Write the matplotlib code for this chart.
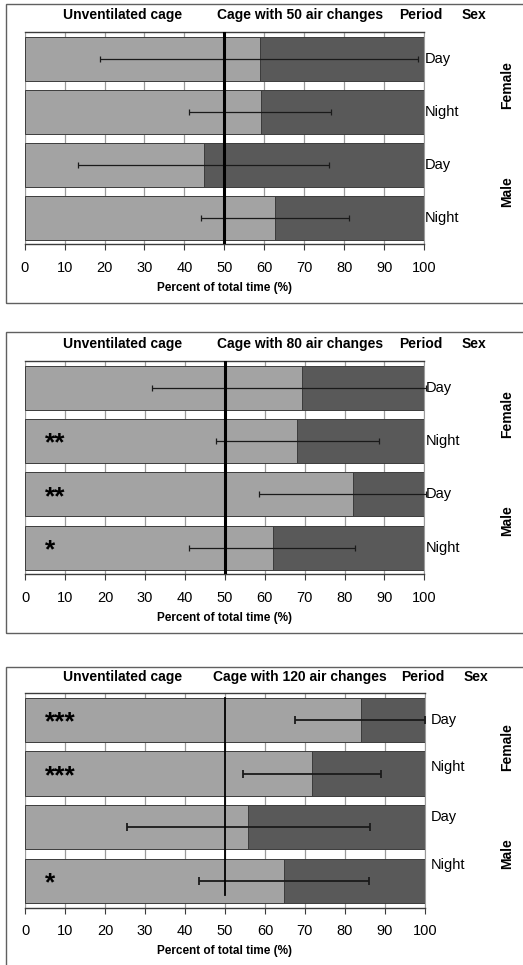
import numpy as np
import matplotlib
matplotlib.use("Agg")
import matplotlib.pyplot as plt
from matplotlib.patches import Rectangle

plt.rcParams['font.family'] = ['Liberation Sans', 'DejaVu Sans']

# --- data ---
periods = ["Day", "Night", "Day", "Night"]
sexes = ["Female", "Male"]
cages = ["Cage with 50 air changes", "Cage with 80 air changes", "Cage with 120 air changes"]

# percent of time spent in the unventilated cage
unvent_50 = [58.9, 59.2, 44.8, 62.6]
unvent_80 = [69.3, 68.1, 82.1, 62.0]
unvent_120 = [84.0, 71.8, 55.8, 64.7]

# visible ends of the error bars (Excel clips at the axis maximum)
err_low_50 = [18.9, 41.2, 13.4, 44.2]
err_high_50 = [98.6, 76.8, 76.2, 81.3]
err_low_80 = [31.8, 47.8, 58.5, 41.0]
err_high_80 = [100.5, 88.6, 100.5, 82.7]
err_low_120 = [67.5, 54.6, 25.4, 43.4]
err_high_120 = [100.2, 89.0, 86.3, 86.0]

stars_50 = ["", "", "", ""]
stars_80 = ["", "**", "**", "*"]
stars_120 = ["***", "***", "", "*"]

W, H = 523, 965
LIGHT = "#a3a3a3"
DARK = "#595959"
EDGE = "#3c3c3c"


def fx(x):
    return x / W


def fy(y):
    return 1 - y / H


fig = plt.figure(figsize=(W / 100, H / 100), dpi=100)

# layout per panel in pixels: box top/bottom, axes left/right/top/bottom
layout = [
    dict(box=(4, 303), ax=(24.7, 424.0, 32.3, 244.3), head=15, line=(2.2, 0.0, 1.0), err_lw=0.9, cap=2.2, lab_dy=[0, 0, 0, 0], lab_dx=1),
    dict(box=(332, 633), ax=(25.3, 424.3, 361.0, 574.3), head=344, line=(2.2, 0.0, 1.0), err_lw=0.9, cap=2.2, lab_dy=[0, 0, 0, 0], lab_dx=1),
    dict(box=(667, 975), ax=(25.3, 424.7, 693.0, 907.7), head=677, line=(1.3, 0.059, 0.977), err_lw=1.3, cap=3.0, lab_dy=[0, 7, 10, 16], lab_dx=6),
]

unvent = [unvent_50, unvent_80, unvent_120]
lows = [err_low_50, err_low_80, err_low_120]
highs = [err_high_50, err_high_80, err_high_120]
stars = [stars_50, stars_80, stars_120]

for k in range(3):
    L = layout[k]
    # panel frame
    b0, b1 = L["box"]
    fig.add_artist(Rectangle((fx(5.5), fy(b1)), fx(530 - 5.5), (b1 - b0) / H,
                             transform=fig.transFigure, fill=False,
                             edgecolor="#606060", lw=1.0))

    x0, x1, y0, y1 = L["ax"]
    ax = fig.add_axes([fx(x0), fy(y1), (x1 - x0) / W, (y1 - y0) / H])
    ypos = np.arange(len(periods))
    vals = np.array(unvent[k])
    ax.barh(ypos, vals, height=0.83, color=LIGHT, edgecolor=EDGE, lw=0.7, zorder=2)
    ax.barh(ypos, 100 - vals, left=vals, height=0.83, color=DARK, edgecolor=EDGE, lw=0.7, zorder=2)
    xerr = np.vstack([vals - np.array(lows[k]), np.array(highs[k]) - vals])
    ax.errorbar(vals, ypos, xerr=xerr, fmt="none", ecolor="#1a1a1a",
                elinewidth=L["err_lw"], capsize=L["cap"], capthick=L["err_lw"],
                zorder=4, clip_on=False)
    lw, ymn, ymx = L["line"]
    ax.axvline(50, ymin=ymn, ymax=ymx, color="black", lw=lw, zorder=5)

    for i, s in enumerate(stars[k]):
        if s:
            ax.text(5.0, i + 0.05, s, fontsize=19, fontweight="bold",
                    ha="left", va="center", zorder=6)

    ax.set_xlim(0, 100)
    ax.set_ylim(3.5, -0.5)
    ax.set_xticks(np.arange(0, 101, 10))
    ax.set_yticks([])
    ax.grid(axis="x", color="#9a9a9a", lw=0.9, zorder=0)
    ax.set_axisbelow(True)
    ax.tick_params(axis="x", direction="out", length=4, width=0.8, color=EDGE,
                   labelsize=10.5, pad=8)
    for side in ["top", "bottom"]:
        ax.spines[side].set_color(EDGE)
        ax.spines[side].set_linewidth(1.0)
    ax.spines["left"].set_visible(False)
    ax.spines["right"].set_color("#9a9a9a")
    ax.set_xlabel("Percent of total time (%)", fontsize=8.5, fontweight="bold", labelpad=5)

    # period labels on the right
    slot = (y1 - y0) / 4
    for i, p in enumerate(periods):
        yc = y0 + slot * (i + 0.5) - L["lab_dy"][i]
        fig.text(fx(x1 + L["lab_dx"]), fy(yc), p, fontsize=10.5, ha="left", va="center")
    for j, s in enumerate(sexes):
        yc = y0 + slot * (2 * j + 1)
        fig.text(fx(507), fy(yc), s, fontsize=10, fontweight="bold",
                 rotation=90, ha="center", va="center")

    # header row
    hy = fy(L["head"])
    fig.text(fx(123), hy, "Unventilated cage", fontsize=10, fontweight="bold", ha="center", va="center")
    fig.text(fx(300), hy, cages[k], fontsize=10, fontweight="bold", ha="center", va="center")
    fig.text(fx(421 + 2 * (k == 2)), hy, "Period", fontsize=10, fontweight="bold", ha="center", va="center")
    fig.text(fx(474 + 2 * (k == 2)), hy, "Sex", fontsize=10, fontweight="bold", ha="center", va="center")

fig.savefig("out.png", dpi=100)
